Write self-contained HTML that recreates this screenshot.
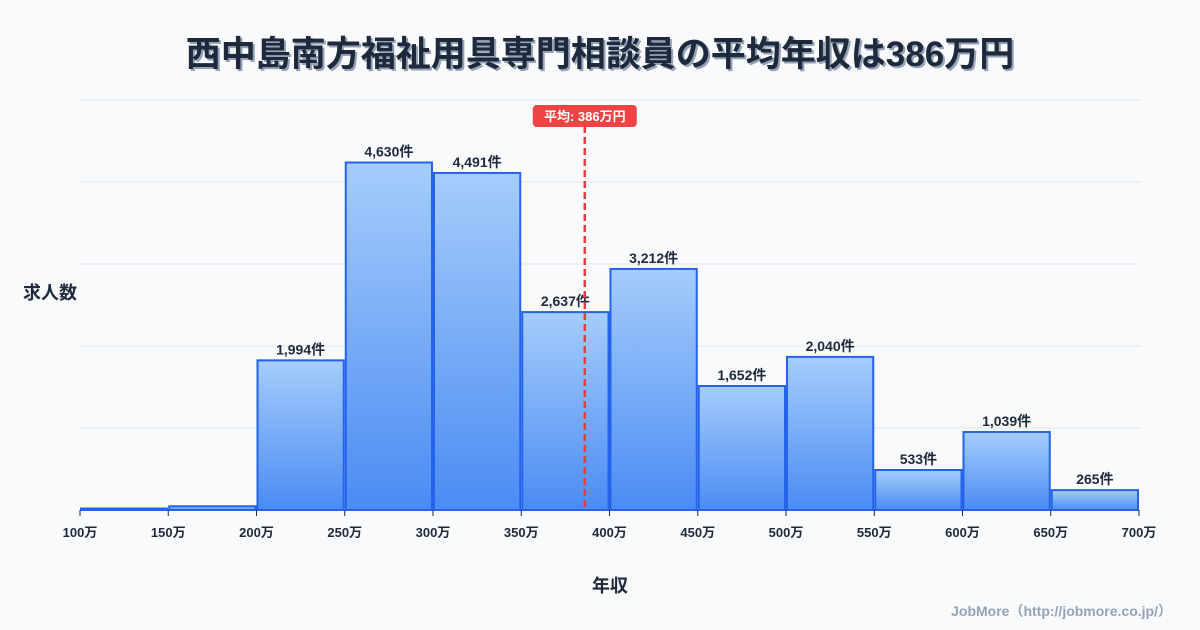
<!DOCTYPE html>
<html><head><meta charset="utf-8"><style>
body{margin:0;background:#f8fafc;font-family:"Liberation Sans","Noto Sans CJK JP",sans-serif;}
#wrap{position:relative;width:1200px;height:630px;overflow:hidden;background:#f8fafc}
</style></head><body>
<div id="wrap">
<svg id="chart" width="1200" height="630">
<defs><linearGradient id="g" x1="0" y1="0" x2="0" y2="1"><stop offset="0" stop-color="#a5cdfb"/><stop offset="1" stop-color="#4b8bf3"/></linearGradient></defs>
<text x="602" y="68" text-anchor="middle" font-size="35" font-weight="bold" fill="#94a3b8">西中島南方福祉用具専門相談員の平均年収は386万円</text>
<text x="600" y="66" text-anchor="middle" font-size="35" font-weight="bold" fill="#1e293b">西中島南方福祉用具専門相談員の平均年収は386万円</text>
<text x="50" y="299" text-anchor="middle" font-size="18" font-weight="bold" fill="#1e293b">求人数</text>
<text x="610" y="592" text-anchor="middle" font-size="18" font-weight="bold" fill="#1e293b">年収</text>
<text x="1172" y="616" text-anchor="end" font-size="14" font-weight="bold" fill="#94a3b8">JobMore（http://jobmore.co.jp/）</text>
<g id="grid"></g><g id="bars"></g><g id="xaxis"></g><g id="mean"></g>
</svg></div>
<script>
const binStarts=[100,150,200,250,300,350,400,450,500,550,600,650];
const counts=[20,50,1994,4630,4491,2637,3212,1652,2040,533,1039,265];
const labels=["","","1,994件","4,630件","4,491件","2,637件","3,212件","1,652件","2,040件","533件","1,039件","265件"];
const xTicks=[100,150,200,250,300,350,400,450,500,550,600,650,700];
const meanValue=386;
const yMax=5463;
const NS="http://www.w3.org/2000/svg";
const X=v=>80+(v-100)*(1059/600);
const Y=v=>510-v*(410/yMax);
function mk(tag,attrs,parent){const e=document.createElementNS(NS,tag);for(const k in attrs)e.setAttribute(k,attrs[k]);document.getElementById(parent).appendChild(e);return e;}
for(let i=0;i<=5;i++){const yy=510-i*82;
const l=mk('line',{x1:80,x2:1140,y1:yy,y2:yy,stroke:'#e2e8f0','stroke-width':1},'grid');

}
counts.forEach((c,i)=>{const x0=X(binStarts[i])+1,x1=X(binStarts[i]+50)-1;
const r=mk('rect',{x:x0,y:Y(c),width:x1-x0,height:510-Y(c),fill:'url(#g)',stroke:'#2563eb','stroke-width':2},'bars');


if(labels[i]){const t=mk('text',{x:(x0+x1)/2,y:Y(c)-6,'text-anchor':'middle','font-size':14,'font-weight':'bold',fill:'#1e293b'},'bars');t.textContent=labels[i];

}});
xTicks.forEach(v=>{const l=mk('line',{x1:X(v),x2:X(v),y1:510,y2:516,stroke:'#1e293b','stroke-width':1},'xaxis');


const t=mk('text',{x:X(v),y:537,'text-anchor':'middle','font-size':13,'font-weight':'bold',fill:'#1e293b'},'xaxis');t.textContent=v+'万';

});
const mx=X(meanValue);
const ml=mk('line',{x1:mx,x2:mx,y1:126,y2:510,stroke:'#e53e3e','stroke-width':2.5,'stroke-dasharray':'7,4'},'mean');


const mb=mk('rect',{x:mx-52,y:105,width:104,height:22,rx:4,fill:'#ef4444'},'mean');


const mt=mk('text',{x:mx,y:121,'text-anchor':'middle','font-size':13,'font-weight':'bold',fill:'#fff'},'mean');mt.textContent='平均: '+meanValue+'万円';


</script></body></html>
